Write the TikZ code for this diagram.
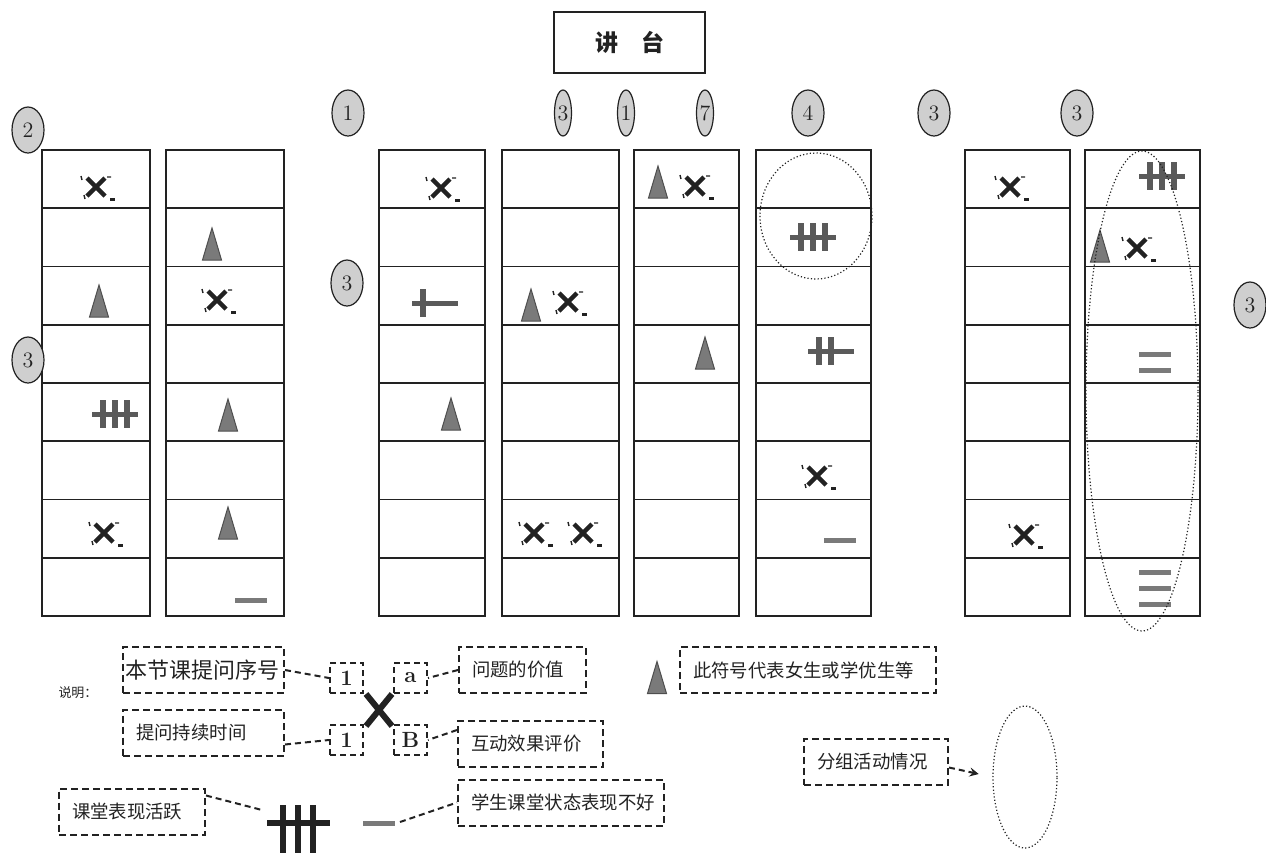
\documentclass[tikz,border=0pt]{standalone}
\usepackage{fontspec}
\newfontfamily\cjk{Noto Sans CJK SC}
\usetikzlibrary{positioning,shapes.geometric,arrows}
\definecolor{ink}     {HTML}{222222}
\definecolor{tallyink}{HTML}{5A5A5A}
\definecolor{cone}    {HTML}{7A7A7A}
\definecolor{badge}   {HTML}{CFCFCF}
\tikzset{
  >=stealth,
  % --- seats
  desk/.style    = {draw=ink, line width=0.9pt},
  ring/.style    = {draw=ink, line width=0.6pt, dash pattern=on 0.6pt off 1.1pt},
  num/.style     = {ellipse, draw=ink, fill=badge, line width=0.6pt, inner sep=0pt, text=ink,
                    minimum width=16pt, minimum height=23pt, font=\fontsize{11}{12}\selectfont},
  numthin/.style = {num, minimum width=8.5pt},
  % --- legend
  note/.style    = {draw=ink, line width=1pt, dash pattern=on 3.5pt off 2pt, anchor=west,
                    align=left, inner xsep=6.5pt, inner ysep=0pt, minimum height=23pt,
                    font=\cjk\fontsize{9.2}{11}\selectfont, text=ink},
  tag/.style     = {draw=ink, line width=1pt, dash pattern=on 3pt off 2pt, inner sep=0pt, text=ink,
                    minimum width=16.5pt, minimum height=15pt, font=\fontsize{11}{12}\selectfont\bfseries},
  lead/.style    = {draw=ink, line width=1pt, dash pattern=on 3pt off 2pt},
  % --- symbols
  pics/ask/.style   = {code={
      \draw[ink, line width=2.2pt] (-9,-9) -- (9,9) (-9,9) -- (9,-9);
      \draw[ink, line width=0.7pt] (-15,-11) -- (-14,-7) (11,-10) -- (15,-10)
                                   (-12,8) -- (-11,12);
      \fill[ink] (14,11) rectangle (19,14);}},
  pics/tally/.style = {code={
      \draw[tallyink, line width=2.5pt] (-23,0) -- (23,0);
      \foreach \v in {#1} \draw[tallyink, line width=2.6pt] (\v,-14) -- (\v,14);}},
  pics/cone/.style  = {code={
      \filldraw[fill=cone, draw=ink!80, line width=0.5pt] (-9.5,16) -- (9.5,16) -- (0,-16) -- cycle;}},
  pics/dash/.style  = {code={\draw[cone, line width=2.5pt] (-16,0) -- (16,0);}},
}
\begin{document}
\begin{tikzpicture}[x=0.5pt,y=-0.5pt]
  \useasboundingbox (0,0) rectangle (1266,853);
  % podium
  \node[draw=ink, line width=0.9pt, minimum width=75.5pt, minimum height=30.5pt, text=ink,
        font=\cjk\bfseries\fontsize{11.5}{13}\selectfont] (podium) at (629.5,42.5) {讲\quad 台};
  % desks
  \foreach \x/\w in {42/108,166/118,379/106,502/117,634/105,756/115,965/105,1085/115}{
    \draw[desk] (\x,150) rectangle ++(\w,466);
    \foreach \r in {1,...,7}
      \draw[desk] (\x,150+58.25*\r) -- ++(\w,0);
  }
  % badges
  \foreach \nm/\x/\y/\lbl in {ba/28/130/2, bb/348/113/1, bc/347/283/3, bd/28/360/3,
                              be/808/113/4, bf/934/113/3, bg/1077/113/3, bh/1250/305/3}
    \node[num] (\nm) at (\x,\y) {\lbl};
  \foreach \nm/\x/\lbl in {bi/563/3, bj/626/1, bk/705/7}
    \node[numthin] (\nm) at (\x,113) {\lbl};
  % seats
  \foreach \x/\y in {96/187, 104/533, 217/300, 441/188, 568/302, 534/533, 583/533,
                     695/186, 817/476, 1010/187, 1024/535, 1137/248}
    \pic at (\x,\y) {ask};
  \foreach \x/\y in {99/301, 212/244, 228/415, 228/523, 451/414, 531/305, 658/182,
                     705/353, 1100/246}
    \pic at (\x,\y) {cone};
  \foreach \x/\y in {115/414, 813/237, 1162/176}
    \pic at (\x,\y) {tally={-12,0,12}};
  \pic at (831,351) {tally={-12,0}};
  \pic at (435,303) {tally={-12}};
  \foreach \x/\y in {251/600, 840/540, 1155/354, 1155/370, 1155/572, 1155/588, 1155/604}
    \pic at (\x,\y) {dash};
  % groups
  \draw[ring] (816,216) ellipse [x radius=28pt, y radius=31.5pt];
  \draw[ring] (1142,391) ellipse [x radius=28pt, y radius=120pt];
  % legend
  \node[font=\cjk\fontsize{6.5}{7}\selectfont, text=ink] (key) at (78,693) {说明：};
  \node[note, text width=77.5pt, inner xsep=1.5pt, font=\cjk\fontsize{11}{12}\selectfont]
    (qnum) at (122,670) {本节课提问序号};
  \node[note, text width=67.5pt]  (qtime)  at (122,732.5) {提问持续时间};
  \node[note, text width=50.5pt]  (qval)   at (458,670)   {问题的价值};
  \node[note, text width=59.5pt]  (qeff)   at (457,744)   {互动效果评价};
  \node[note, text width=90pt]    (poor)   at (457,802.5) {学生课堂状态表现不好};
  \node[note, text width=60pt]    (lively) at (58,811.5)  {课堂表现活跃};
  \node[note, text width=115pt]   (girl)   at (679,670)   {此符号代表女生或学优生等};
  \node[note, text width=59pt]    (group)  at (803,761.5) {分组活动情况};
  \node[tag] (t1) at (346.5,678) {1};
  \node[tag] (ta) at (410.5,678) {a};
  \node[tag] (t2) at (346.5,740) {1};
  \node[tag] (tb) at (410.5,740) {B};
  \draw[ink, line width=3pt] (366,694) -- (392,726) (366,726) -- (392,694);
  \draw[ink, line width=3pt] (267,823) -- (330,823)
    (283,805) -- (283,853) (298,805) -- (298,853) (313,805) -- (313,853);
  \draw[cone, line width=2.5pt] (363,823) -- (395,823);
  \pic at (657,677.5) {cone};
  \node[ring, ellipse, minimum width=32pt, minimum height=71pt] (grpring) at (1025,777) {};
  \coordinate (tallyend) at (262,810);
  \coordinate (dashend)  at (400,822);
  \draw[lead] (qnum.east) -- (t1.west);
  \draw[lead] ([yshift=-6pt]qtime.east) -- (t2.west);
  \draw[lead] (qval.west) -- (ta.east);
  \draw[lead] ([yshift=7pt]qeff.west) -- (tb.east);
  \draw[lead] ([yshift=8pt]lively.east) -- (tallyend);
  \draw[lead] (dashend) -- (poor.west);
  \draw[lead, ->, shorten >=7pt] ([yshift=-3pt]group.east) -- (grpring.west);
\end{tikzpicture}
\end{document}
